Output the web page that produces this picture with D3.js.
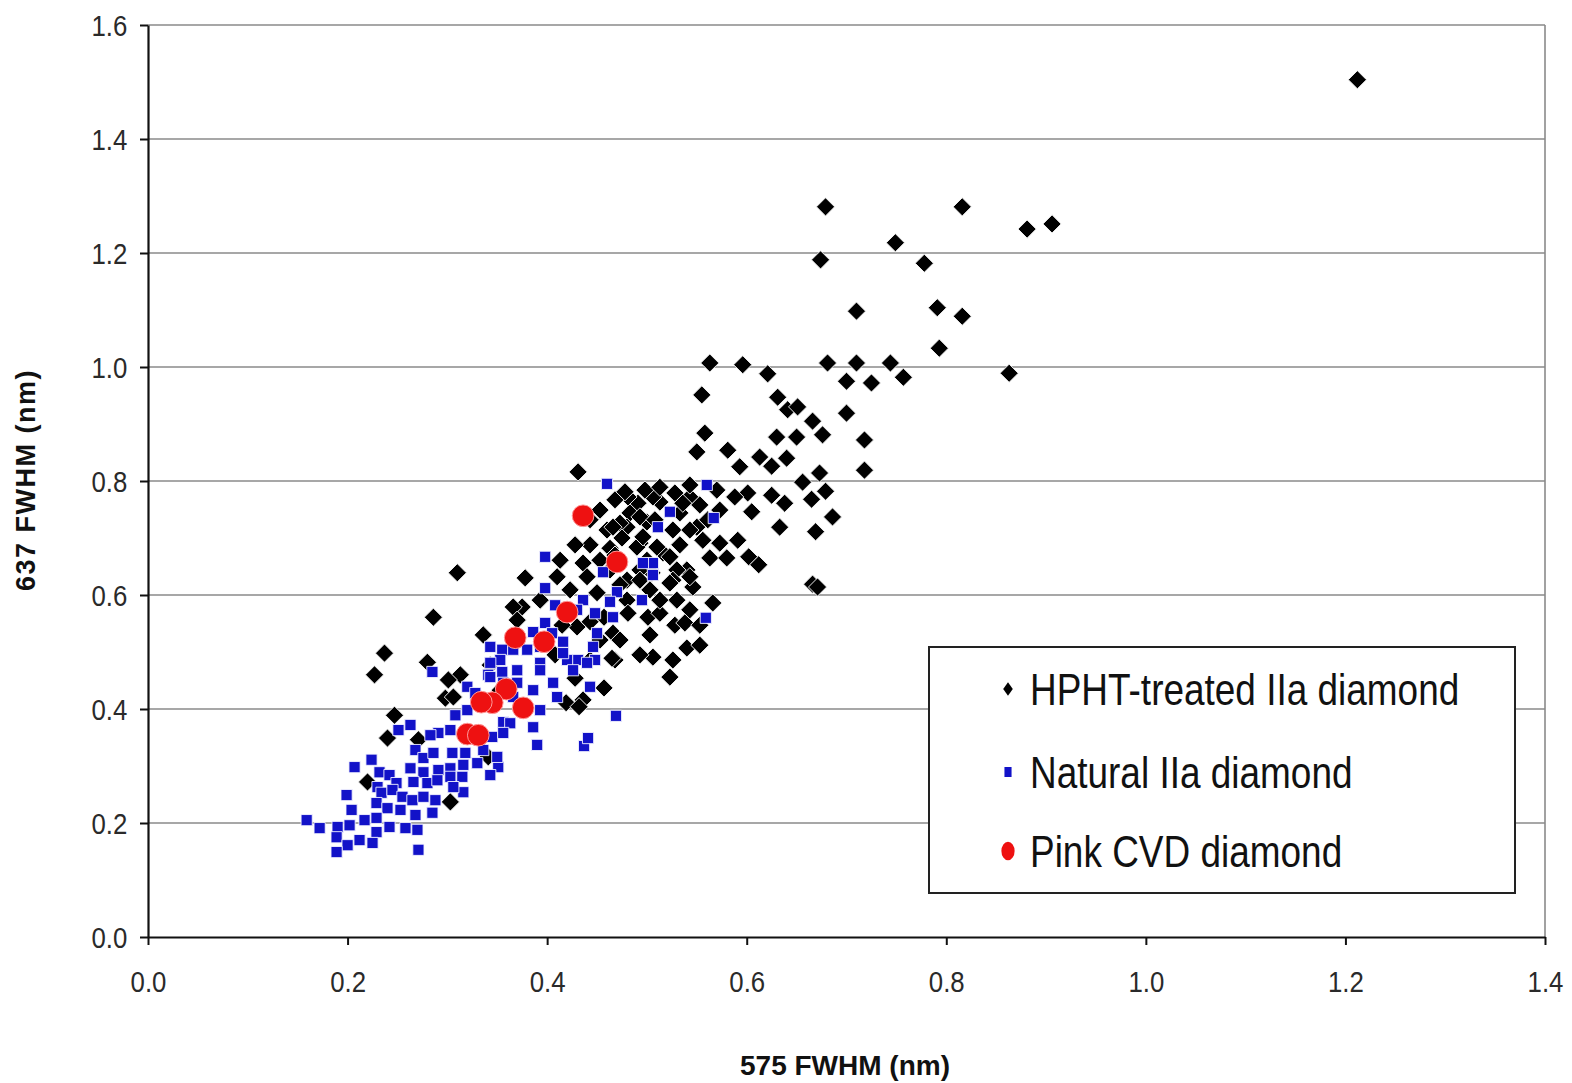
<!DOCTYPE html>
<html lang="en">
<head>
    <meta charset="UTF-8">
    <title>575 vs 637 FWHM</title>

    <script src="https://d3js.org/d3.v7.min.js"></script>

    <style>
        body {
            margin: 0;
            background: #fff;
        }
        svg {
            display: block;
            font-family: "Liberation Sans", Arial, sans-serif;
        }
    </style>
</head>
<body>

<svg id="chart"></svg>

<script>

    // series names (legend order)
    const seriesNames = ["HPHT-treated IIa diamond", "Natural IIa diamond", "Pink CVD diamond"];

    // axis ticks
    const xTicks = [0.0, 0.2, 0.4, 0.6, 0.8, 1.0, 1.2, 1.4];
    const yTicks = [0.0, 0.2, 0.4, 0.6, 0.8, 1.0, 1.2, 1.4, 1.6];

    // HPHT-treated IIa diamond: [575 FWHM, 637 FWHM]
    const hpht = [
        [1.212, 1.504], [0.679, 1.281], [0.816, 1.281], [0.881, 1.242], [0.906, 1.251],
        [0.749, 1.218], [0.674, 1.188], [0.778, 1.182], [0.710, 1.098], [0.791, 1.104],
        [0.816, 1.089], [0.793, 1.033], [0.563, 1.007], [0.596, 1.004], [0.681, 1.007],
        [0.710, 1.007], [0.744, 1.007], [0.863, 0.989], [0.621, 0.988], [0.700, 0.975],
        [0.725, 0.972], [0.757, 0.982], [0.555, 0.951], [0.631, 0.947], [0.641, 0.925],
        [0.651, 0.930], [0.700, 0.919], [0.666, 0.905], [0.676, 0.881], [0.630, 0.877],
        [0.650, 0.877], [0.718, 0.872], [0.558, 0.884], [0.550, 0.851], [0.581, 0.854],
        [0.613, 0.842], [0.625, 0.826], [0.640, 0.840], [0.593, 0.825], [0.718, 0.819],
        [0.673, 0.814], [0.656, 0.798], [0.679, 0.782], [0.665, 0.768], [0.625, 0.775],
        [0.638, 0.761], [0.686, 0.737], [0.633, 0.719], [0.669, 0.711], [0.591, 0.696],
        [0.602, 0.667], [0.612, 0.653], [0.666, 0.619], [0.671, 0.614], [0.601, 0.779],
        [0.605, 0.746], [0.588, 0.772], [0.573, 0.691], [0.563, 0.665], [0.580, 0.665],
        [0.546, 0.614], [0.540, 0.644], [0.561, 0.732], [0.570, 0.784], [0.543, 0.772],
        [0.533, 0.744], [0.550, 0.719], [0.556, 0.696], [0.526, 0.714], [0.513, 0.763],
        [0.491, 0.761], [0.483, 0.744], [0.500, 0.728], [0.493, 0.691], [0.516, 0.674],
        [0.530, 0.644], [0.526, 0.626], [0.505, 0.639], [0.493, 0.644], [0.480, 0.719],
        [0.431, 0.816], [0.310, 0.639], [0.378, 0.630], [0.410, 0.632], [0.286, 0.561],
        [0.375, 0.579], [0.530, 0.591], [0.566, 0.586], [0.528, 0.547], [0.501, 0.561],
        [0.481, 0.772], [0.506, 0.772], [0.493, 0.737], [0.473, 0.726], [0.490, 0.684],
        [0.496, 0.702], [0.475, 0.700], [0.510, 0.684], [0.523, 0.667], [0.480, 0.626],
        [0.493, 0.626], [0.523, 0.621], [0.450, 0.604], [0.480, 0.591], [0.513, 0.568],
        [0.481, 0.568], [0.366, 0.579], [0.370, 0.556], [0.336, 0.530], [0.430, 0.544],
        [0.466, 0.533], [0.473, 0.521], [0.506, 0.491], [0.526, 0.486], [0.468, 0.486],
        [0.313, 0.460], [0.523, 0.456], [0.237, 0.498], [0.227, 0.460], [0.280, 0.482],
        [0.301, 0.451], [0.298, 0.419], [0.306, 0.421], [0.247, 0.389], [0.240, 0.349],
        [0.220, 0.272], [0.303, 0.237], [0.271, 0.346], [0.341, 0.316], [0.436, 0.656],
        [0.440, 0.632], [0.436, 0.416], [0.465, 0.489], [0.457, 0.437], [0.540, 0.507],
        [0.553, 0.512], [0.538, 0.551], [0.419, 0.411], [0.432, 0.404], [0.428, 0.454],
        [0.408, 0.495], [0.343, 0.477], [0.353, 0.433], [0.460, 0.714], [0.500, 0.661],
        [0.543, 0.632], [0.536, 0.761], [0.463, 0.682], [0.453, 0.661], [0.443, 0.688],
        [0.457, 0.561], [0.443, 0.553], [0.415, 0.547], [0.393, 0.591], [0.466, 0.719],
        [0.443, 0.732], [0.453, 0.749], [0.468, 0.767], [0.478, 0.781], [0.498, 0.784],
        [0.513, 0.789], [0.528, 0.779], [0.543, 0.793], [0.553, 0.758], [0.463, 0.644],
        [0.473, 0.618], [0.503, 0.609], [0.513, 0.591], [0.543, 0.574], [0.553, 0.547],
        [0.503, 0.530], [0.493, 0.495], [0.453, 0.521], [0.443, 0.486], [0.423, 0.609],
        [0.413, 0.661], [0.428, 0.688], [0.543, 0.714], [0.533, 0.688], [0.573, 0.749],
        [0.508, 0.732], [0.468, 0.670]
    ];

    // Natural IIa diamond
    const natural = [
        [0.460, 0.795], [0.398, 0.667], [0.398, 0.612], [0.456, 0.640], [0.523, 0.746],
        [0.511, 0.719], [0.506, 0.656], [0.496, 0.656], [0.506, 0.635], [0.470, 0.605],
        [0.463, 0.588], [0.436, 0.591], [0.495, 0.591], [0.466, 0.561], [0.448, 0.568],
        [0.430, 0.574], [0.408, 0.582], [0.398, 0.551], [0.386, 0.535], [0.405, 0.533],
        [0.450, 0.533], [0.448, 0.486], [0.431, 0.486], [0.420, 0.486], [0.416, 0.518],
        [0.446, 0.509], [0.355, 0.504], [0.353, 0.486], [0.370, 0.468], [0.393, 0.481],
        [0.341, 0.460], [0.355, 0.465], [0.285, 0.465], [0.251, 0.363], [0.263, 0.372],
        [0.343, 0.509], [0.343, 0.456], [0.320, 0.439], [0.328, 0.428], [0.320, 0.398],
        [0.308, 0.389], [0.356, 0.377], [0.363, 0.375], [0.303, 0.363], [0.291, 0.358],
        [0.283, 0.354], [0.345, 0.351], [0.356, 0.358], [0.268, 0.328], [0.276, 0.314],
        [0.286, 0.323], [0.305, 0.323], [0.318, 0.323], [0.330, 0.305], [0.351, 0.298],
        [0.343, 0.284], [0.316, 0.302], [0.303, 0.296], [0.291, 0.293], [0.276, 0.289],
        [0.263, 0.296], [0.207, 0.298], [0.224, 0.311], [0.232, 0.289], [0.242, 0.284],
        [0.249, 0.270], [0.266, 0.272], [0.280, 0.270], [0.290, 0.275], [0.303, 0.281],
        [0.315, 0.281], [0.316, 0.254], [0.306, 0.263], [0.230, 0.263], [0.234, 0.253],
        [0.245, 0.258], [0.255, 0.246], [0.265, 0.240], [0.276, 0.246], [0.288, 0.240],
        [0.199, 0.249], [0.204, 0.223], [0.229, 0.235], [0.240, 0.226], [0.253, 0.223],
        [0.268, 0.214], [0.285, 0.218], [0.159, 0.205], [0.172, 0.191], [0.190, 0.193],
        [0.202, 0.196], [0.217, 0.205], [0.229, 0.209], [0.229, 0.184], [0.242, 0.193],
        [0.258, 0.191], [0.270, 0.188], [0.189, 0.175], [0.200, 0.161], [0.212, 0.170],
        [0.225, 0.165], [0.189, 0.149], [0.271, 0.153], [0.437, 0.335], [0.441, 0.349],
        [0.390, 0.337], [0.469, 0.388], [0.560, 0.793], [0.567, 0.735], [0.559, 0.560],
        [0.416, 0.498], [0.426, 0.468], [0.440, 0.481], [0.443, 0.439], [0.406, 0.446],
        [0.410, 0.421], [0.393, 0.468], [0.393, 0.509], [0.380, 0.504], [0.366, 0.504],
        [0.343, 0.481], [0.370, 0.446], [0.356, 0.446], [0.366, 0.421], [0.386, 0.433],
        [0.393, 0.398], [0.386, 0.368], [0.336, 0.328], [0.350, 0.316]
    ];

    // Pink CVD diamond
    const cvd = [
        [0.436, 0.739], [0.470, 0.658], [0.420, 0.570], [0.368, 0.525], [0.397, 0.518],
        [0.359, 0.435], [0.345, 0.411], [0.334, 0.412], [0.376, 0.402], [0.320, 0.356],
        [0.331, 0.354]
    ];

    const width = 1572;
    const height = 1083;
    const plot = {left: 148, right: 1545, top: 25, bottom: 937};

    const svg = d3.select("#chart")
        .attr("width", width)
        .attr("height", height);

    svg.append("rect").attr("width", width).attr("height", height).attr("fill", "#fff");

    const x = d3.scaleLinear().domain([0, 1.4]).range([plot.left, plot.right]);
    const y = d3.scaleLinear().domain([0, 1.6]).range([plot.bottom, plot.top]);

    // gridlines
    svg.append("g")
        .selectAll("line")
        .data(yTicks.filter(d => d > 0))
        .enter()
        .append("line")
        .attr("x1", plot.left)
        .attr("x2", plot.right)
        .attr("y1", d => y(d))
        .attr("y2", d => y(d))
        .attr("stroke", "#8a8a8a")
        .attr("stroke-width", 1.6);

    // right border of plot area
    svg.append("line")
        .attr("x1", plot.right).attr("x2", plot.right)
        .attr("y1", plot.top).attr("y2", plot.bottom)
        .attr("stroke", "#8a8a8a")
        .attr("stroke-width", 1.6);

    // axes
    const yAxis = svg.append("g")
        .attr("transform", `translate(${plot.left},0)`)
        .call(d3.axisLeft(y).tickValues(yTicks).tickFormat(d3.format(".1f")).tickSize(8).tickSizeOuter(0));

    const xAxis = svg.append("g")
        .attr("transform", `translate(0,${plot.bottom})`)
        .call(d3.axisBottom(x).tickValues(xTicks).tickFormat(d3.format(".1f")).tickSize(8).tickSizeOuter(0));

    [xAxis, yAxis].forEach(function(ax) {
        ax.select(".domain").attr("stroke", "#111").attr("stroke-width", 2.2);
        ax.selectAll(".tick line").attr("stroke", "#111").attr("stroke-width", 2);
        ax.selectAll(".tick text")
            .attr("fill", "#2a2a2a")
            .attr("font-size", 30)
            .attr("font-family", "'Liberation Sans', Arial, sans-serif");
    });

    yAxis.selectAll(".tick text")
        .attr("x", -24)
        .attr("dy", "0.36em")
        .attr("transform", "scale(0.86,1)");

    xAxis.selectAll(".tick text")
        .attr("y", 55)
        .attr("dy", 0)
        .attr("transform", "scale(0.86,1)");

    // markers
    const diamond = d3.symbol().type(d3.symbolSquare).size(165);
    const square = d3.symbol().type(d3.symbolSquare).size(125);
    const circle = d3.symbol().type(d3.symbolCircle).size(370);

    svg.append("g")
        .selectAll("path")
        .data(hpht)
        .enter()
        .append("path")
        .attr("d", diamond)
        .attr("transform", d => `translate(${x(d[0])},${y(d[1])}) rotate(45)`)
        .attr("fill", "#000")
        .attr("stroke", "#f2f2f2")
        .attr("stroke-width", 0.9);

    svg.append("g")
        .selectAll("path")
        .data(natural)
        .enter()
        .append("path")
        .attr("d", square)
        .attr("transform", d => `translate(${x(d[0])},${y(d[1])})`)
        .attr("fill", "#1212c8")
        .attr("stroke", "#f4f4ff")
        .attr("stroke-width", 0.9);

    svg.append("g")
        .selectAll("path")
        .data(cvd)
        .enter()
        .append("path")
        .attr("d", circle)
        .attr("transform", d => `translate(${x(d[0])},${y(d[1])})`)
        .attr("fill", "#ee1111")
        .attr("stroke", "#ff9a9a")
        .attr("stroke-width", 1);

    // legend
    const legend = svg.append("g");
    legend.append("rect")
        .attr("x", 929).attr("y", 647)
        .attr("width", 586).attr("height", 246)
        .attr("fill", "#fff")
        .attr("stroke", "#222")
        .attr("stroke-width", 2);

    const legendRows = [
        {name: seriesNames[0], cy: 689, base: 705, mark: d3.symbol().type(d3.symbolSquare).size(64)(), rot: 45, fill: "#000"},
        {name: seriesNames[1], cy: 772, base: 788, mark: d3.symbol().type(d3.symbolSquare).size(70)(), rot: 0, fill: "#1212c8"},
        {name: seriesNames[2], cy: 851, base: 867, mark: d3.symbol().type(d3.symbolCircle).size(190)(), rot: 0, fill: "#ee1111"}
    ];

    legendRows.forEach(function(r) {
        legend.append("path")
            .attr("d", r.mark)
            .attr("transform", `translate(1008,${r.cy}) scale(0.85,1.2) rotate(${r.rot})`)
            .attr("fill", r.fill);
        legend.append("text")
            .attr("transform", `translate(1030,${r.base}) scale(0.84,1)`)
            .attr("font-size", 44)
            .attr("fill", "#111")
            .text(r.name);
    });

    // axis titles
    svg.append("text")
        .attr("x", 845)
        .attr("y", 1075)
        .attr("text-anchor", "middle")
        .attr("font-size", 28)
        .attr("font-weight", "bold")
        .attr("fill", "#111")
        .text("575 FWHM (nm)");

    svg.append("text")
        .attr("transform", "translate(35,480) rotate(-90)")
        .attr("text-anchor", "middle")
        .attr("font-size", 27)
        .attr("font-weight", "bold")
        .attr("letter-spacing", 1.5)
        .attr("fill", "#111")
        .text("637 FWHM (nm)");

</script>

</body>
</html>
